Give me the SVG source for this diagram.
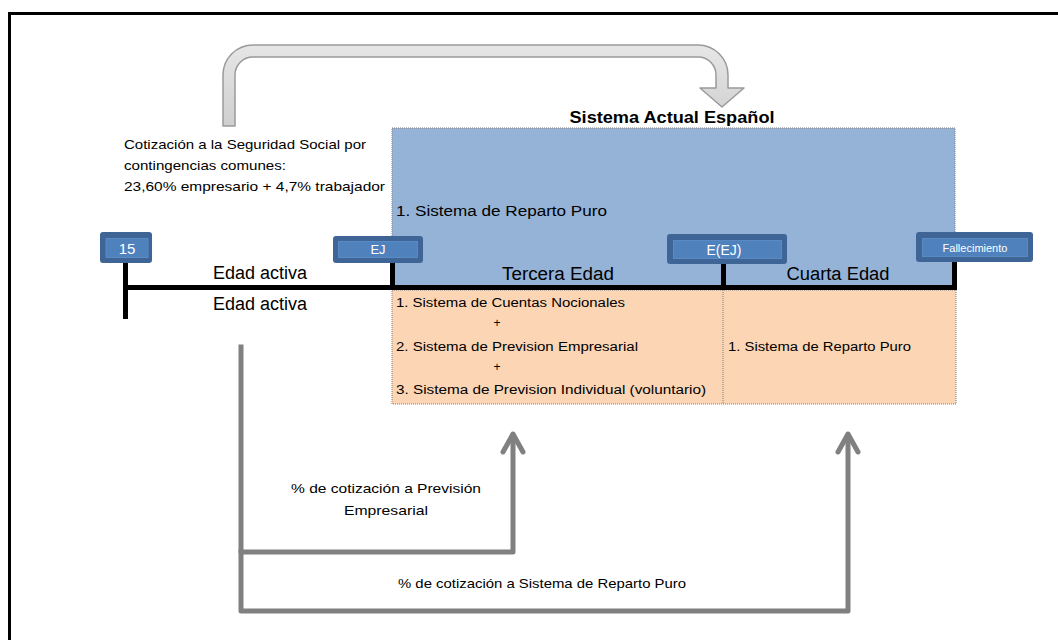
<svg xmlns="http://www.w3.org/2000/svg" width="1058" height="640" viewBox="0 0 1058 640">
<style>
text{font-family:"Liberation Sans",Arial,sans-serif;fill:#000}
.t13{font-size:13px}
.t12{font-size:12px}
.big{font-size:18px}
.tag{fill:#fff;text-anchor:middle}
.outer{fill:#3f6596}
.inner{fill:#4f81bd;stroke:#5a8ac4;stroke-width:1}
.blk{stroke:#000;stroke-width:5;fill:none}
.gray{stroke:#808080;stroke-width:5;fill:none;stroke-linejoin:round;stroke-linecap:square}
.head{stroke:#808080;stroke-width:5;fill:none;stroke-linejoin:round;stroke-linecap:round}
.dot{stroke:#7f7f7f;stroke-width:1;stroke-dasharray:1 1;fill:none}
</style>
<defs>
<linearGradient id="arrowFill" x1="0" y1="0" x2="0" y2="1">
<stop offset="0" stop-color="#e6e6e6"/>
<stop offset="1" stop-color="#cfcfcf"/>
</linearGradient>
</defs>
<rect width="1058" height="640" fill="#fff"/>
<!-- frame -->
<path d="M9.5,640 V13.5 H1058" fill="none" stroke="#000" stroke-width="3"/>

<!-- boxes -->
<g id="blue-box">
<rect x="392" y="128" width="563" height="160" fill="#95b3d7"/>
<rect x="392" y="128" width="563" height="160" class="dot"/>
<text x="396" y="216" font-size="14" textLength="211" lengthAdjust="spacingAndGlyphs">1. Sistema de Reparto Puro</text>
</g>
<g id="peach-box">
<rect x="392" y="290" width="564" height="114" fill="#fcd5b4"/>
<rect x="392" y="290" width="564" height="114" class="dot"/>
<line x1="723" y1="290" x2="723" y2="404" class="dot"/>
<text x="396" y="307" class="t12" textLength="229" lengthAdjust="spacingAndGlyphs">1. Sistema de Cuentas Nocionales</text>
<text x="497" y="327" class="t12" text-anchor="middle">+</text>
<text x="396" y="351" class="t12" textLength="242" lengthAdjust="spacingAndGlyphs">2. Sistema de Prevision Empresarial</text>
<text x="497" y="371" class="t12" text-anchor="middle">+</text>
<text x="396" y="394" class="t12" textLength="310" lengthAdjust="spacingAndGlyphs">3. Sistema de Prevision Individual (voluntario)</text>
<text x="728" y="351" class="t12" textLength="183" lengthAdjust="spacingAndGlyphs">1. Sistema de Reparto Puro</text>
</g>

<g id="title">
<text x="672" y="123" font-size="16" font-weight="bold" text-anchor="middle" textLength="205" lengthAdjust="spacingAndGlyphs">Sistema Actual Español</text>
</g>

<g id="cotizacion-text" class="t13">
<text x="124" y="149" textLength="242" lengthAdjust="spacingAndGlyphs">Cotización a la Seguridad Social por</text>
<text x="124" y="170" textLength="162" lengthAdjust="spacingAndGlyphs">contingencias comunes:</text>
<text x="124" y="191" textLength="261" lengthAdjust="spacingAndGlyphs">23,60% empresario + 4,7% trabajador</text>
</g>

<!-- timeline -->
<g id="timeline">
<line x1="123" y1="287.5" x2="957" y2="287.5" class="blk"/>
<line x1="125.5" y1="262" x2="125.5" y2="319" class="blk"/>
<line x1="392.5" y1="262" x2="392.5" y2="290" class="blk"/>
<line x1="723.5" y1="262" x2="723.5" y2="290" class="blk"/>
<line x1="954.5" y1="262" x2="954.5" y2="290" class="blk"/>
<text x="260" y="279" class="big" text-anchor="middle">Edad activa</text>
<text x="260" y="310" class="big" text-anchor="middle">Edad activa</text>
<text x="558" y="280" class="big" text-anchor="middle" textLength="112" lengthAdjust="spacingAndGlyphs">Tercera Edad</text>
<text x="838" y="280" class="big" text-anchor="middle" textLength="103" lengthAdjust="spacingAndGlyphs">Cuarta Edad</text>
</g>

<!-- tags -->
<g id="tag-15">
<rect x="100" y="232" width="52" height="31" rx="3" class="outer"/>
<rect x="106" y="238.5" width="42" height="19" class="inner"/>
<text x="127" y="254" class="tag" style="font-size:15px">15</text>
</g>
<g id="tag-EJ">
<rect x="333" y="236" width="90" height="27" rx="3" class="outer"/>
<rect x="338.5" y="241.5" width="79" height="16" class="inner"/>
<text x="378" y="254" class="tag" style="font-size:13px">EJ</text>
</g>
<g id="tag-EEJ">
<rect x="667" y="234" width="120" height="30" rx="3" class="outer"/>
<rect x="673.5" y="240.5" width="108" height="18" class="inner"/>
<text x="724" y="255" class="tag" style="font-size:14px">E(EJ)</text>
</g>
<g id="tag-fallecimiento">
<rect x="916" y="232" width="117" height="30" rx="3" class="outer"/>
<rect x="922.5" y="238.5" width="105" height="18" class="inner"/>
<text x="975" y="252" class="tag" style="font-size:11px">Fallecimiento</text>
</g>

<!-- connectors -->
<g id="connectors">
<path d="M223,126 V75 A30,30 0 0 1 253,45 H698 A30,30 0 0 1 728,75 V88 H744 L722,107 L700,88 H716 V75 A18,18 0 0 0 698,57 H253 A18,18 0 0 0 235,75 V126 Z" fill="url(#arrowFill)" stroke="#9a9a9a" stroke-width="1.5" stroke-linejoin="round"/>
<polyline points="241,347 241,552 513,552 513,436" class="gray"/>
<polyline points="241,552 241,611 848,611 848,436" class="gray"/>
<polyline points="503,452 513,434 523,452" class="head"/>
<polyline points="838,452 848,434 858,452" class="head"/>
<text x="386" y="493" class="t13" text-anchor="middle" textLength="190" lengthAdjust="spacingAndGlyphs">% de cotización a Previsión</text>
<text x="386" y="515" class="t13" text-anchor="middle" textLength="84" lengthAdjust="spacingAndGlyphs">Empresarial</text>
<text x="542" y="588" class="t13" text-anchor="middle" textLength="288" lengthAdjust="spacingAndGlyphs">% de cotización a Sistema de Reparto Puro</text>
</g>
</svg>
